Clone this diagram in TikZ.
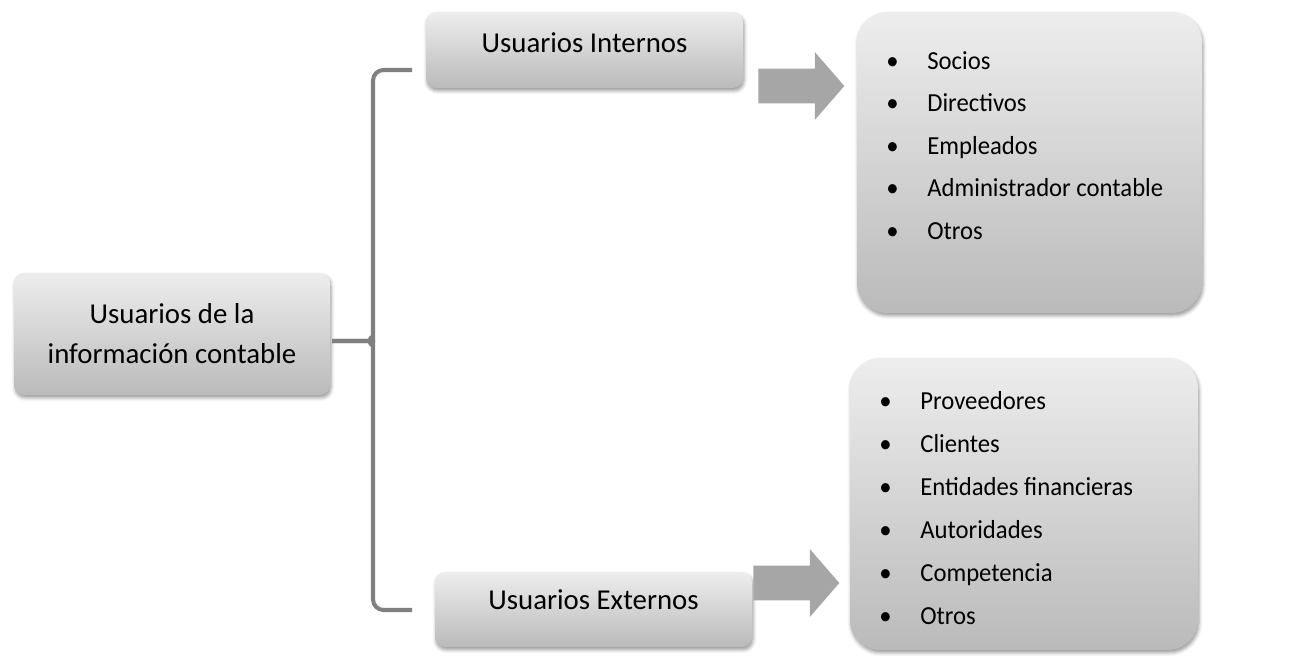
\documentclass[tikz,border=0pt]{standalone}
\usepackage{fontspec}
\setmainfont{Carlito}
\newfontfamily\listfont[FakeStretch=0.95]{Carlito}
\usetikzlibrary{shapes.arrows,shadows.blur}

\tikzset{
  box/.style={rounded corners=0.2cm, top color=black!7, bottom color=black!27, draw=none,
    blur shadow={shadow xshift=0.6pt, shadow yshift=-1.6pt, shadow blur radius=2pt, shadow opacity=40},
    font=\fontsize{16.4}{22.8}\selectfont, align=center, inner sep=0pt},
  listbox/.style={box, rounded corners=0.6cm},
  item/.style={anchor=west, inner sep=0pt, font=\listfont\fontsize{14.8}{17}\selectfont, text height=1.5ex, text depth=0pt},
  bigarrow/.style={single arrow, fill=black!35, draw=none, inner xsep=0pt, inner ysep=0.34cm, minimum height=1.72cm,
    single arrow head extend=0.33cm, single arrow tip angle=98, anchor=tail},
  brace/.style={draw=black!50, line width=2.3pt, rounded corners=6pt}
}

\begin{document}
\begin{tikzpicture}[x=0.02cm,y=-0.02cm]
\useasboundingbox (0,0) rectangle (1302,658);

\node[box, minimum width=6.32cm, minimum height=2.44cm] (usuarios) at (172,334) {Usuarios de la\\información contable};
\node[box, minimum width=6.34cm, minimum height=1.52cm, text height=0.75em, text depth=0.51em] (internos) at (584.5,50) {Usuarios Internos};
\node[box, minimum width=6.34cm, minimum height=1.5cm, text height=0.6em, text depth=0.6em] (externos) at (593.5,609.5) {Usuarios Externos};

% llave
\coordinate (bsup) at (412,70);
\coordinate (bmid) at (332,341);
\coordinate (binf) at (412,610);
\draw[brace] (bsup) -- (373,70) -- (373,327) to[out=-90,in=0] (360,341) -- (bmid);
\draw[brace] (bmid) -- (360,341) to[out=0,in=90] (373,355) -- (373,610) -- (binf);

\node[bigarrow] (flechaint) at (758,86) {};
\node[bigarrow] (flechaext) at (753,583) {};

\node[listbox, minimum width=6.9cm, minimum height=6.02cm] (listaint) at (1029.5,162.5) {};
\node[listbox, minimum width=6.96cm, minimum height=5.84cm] (listaext) at (1024,504) {};

\foreach \t [count=\i] in {Socios,Directivos,Empleados,Administrador contable,Otros}
  \node[item] (int\i) at (886,{63+42.5*(\i-1)}) {\makebox[0.82cm][l]{\textbullet}\t};
\foreach \t [count=\i] in {Proveedores,Clientes,Entidades financieras,Autoridades,Competencia,Otros}
  \node[item] (ext\i) at (879,{403+43*(\i-1)}) {\makebox[0.82cm][l]{\textbullet}\t};
\end{tikzpicture}
\end{document}
